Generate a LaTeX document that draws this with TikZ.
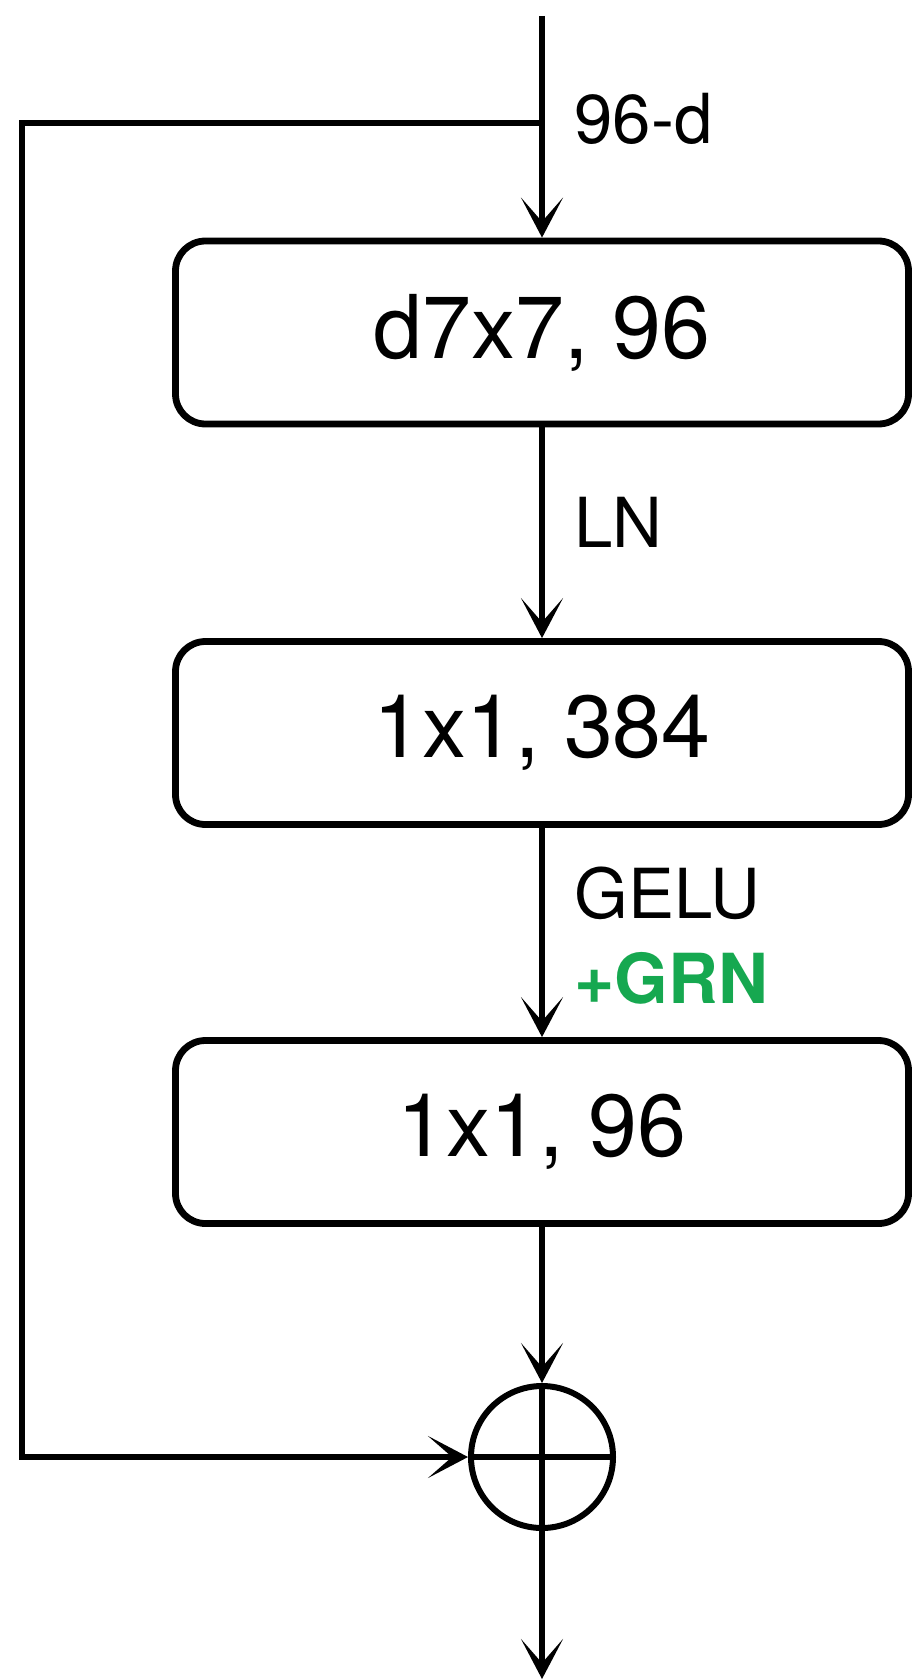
\documentclass[tikz,border=0pt]{standalone}
\usepackage{fontspec}
\setmainfont{TeX Gyre Heros}
\usetikzlibrary{arrows.meta}
\definecolor{grngreen}{RGB}{22,168,80}
\tikzset{
  blk/.style={draw, line width=3.4pt, rounded corners=15pt, minimum width=366.5pt, minimum height=91.5pt, inner sep=0pt, font=\fontsize{44}{50}\selectfont},
  conn/.style={line width=3pt, line join=miter, -{Stealth[length=20pt, width=21pt, inset=12pt]}},
  lbl/.style={anchor=base west, inner sep=0pt, font=\fontsize{34.5}{40}\selectfont},
  sumnode/.style={draw, circle, line width=3pt, minimum size=71pt, inner sep=0pt}
}
\begin{document}
\begin{tikzpicture}[x=0.5pt, y=-0.5pt]
\useasboundingbox (0,0) rectangle (913,1679);
\node[blk] (b1) at (542,332.5) {d7x7, 96};
\node[blk] (b2) at (542,733) {1x1, 384};
\node[blk] (b3) at (542,1132) {1x1, 96};
\node[sumnode] (sum) at (542,1457) {};
\draw[line width=3pt] (sum.north) -- (sum.south) (sum.west) -- (sum.east);
\coordinate (in) at (542,16);
\coordinate (br) at (542,123);
\coordinate (lt) at (22,123);
\coordinate (out) at (542,1679);
\draw[conn] (in) -- (b1.north);
\draw[conn] (b1.south) -- (b2.north);
\draw[conn] (b2.south) -- (b3.north);
\draw[conn] (b3.south) -- (sum.north);
\draw[conn] (sum.south) -- (out);
\draw[conn] (br) -- (lt) |- (sum.west);
\node[lbl] (l96) at (574,144) {96-d};
\node[lbl] (lln) at (574,547) {LN};
\node[lbl] (lgelu) at (574,918) {GELU};
\node[lbl, text=grngreen, font=\fontsize{34.5}{40}\selectfont\bfseries] (lgrn) at (574,1003) {+GRN};
\end{tikzpicture}
\end{document}
